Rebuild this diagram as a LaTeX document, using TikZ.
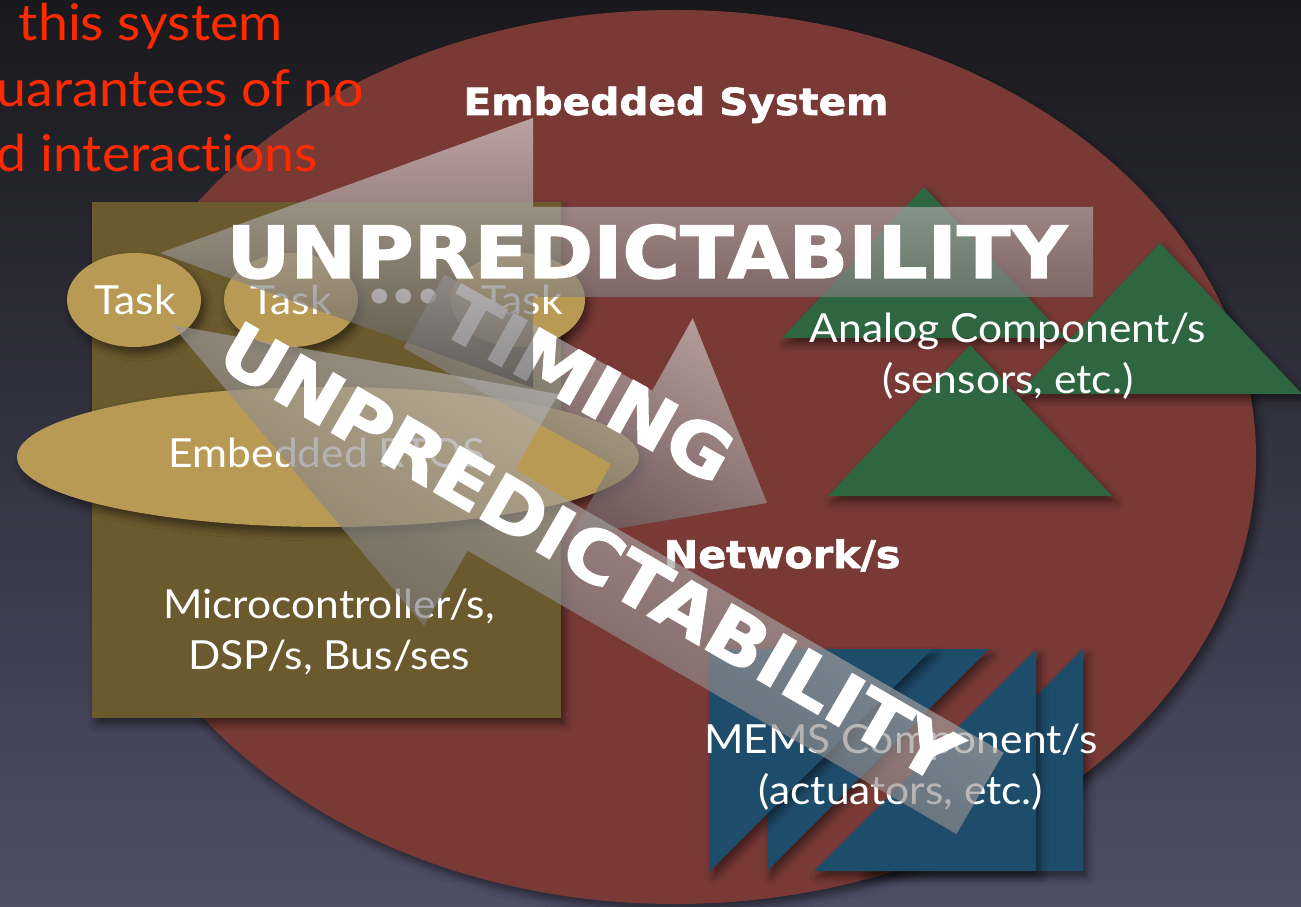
\documentclass[tikz,border=0pt]{standalone}
\usepackage{fontspec}
\setmainfont{Lato}
\newfontfamily\slide[FakeStretch=1.06,Ligatures=NoCommon]{Lato}
\newfontfamily\heavy[FakeStretch=1.09,BoldFeatures={FakeBold=1.8}]{DejaVu Sans}
\usetikzlibrary{shadows.blur}
\definecolor{bgtop}{HTML}{19191D}
\definecolor{bgmid}{HTML}{2E2E3A}
\definecolor{bgbot}{HTML}{4F4E66}
\definecolor{sysred}{HTML}{793A36}
\definecolor{mcu}{HTML}{6A5A2E}
\definecolor{rtos}{HTML}{B99A55}
\definecolor{analog}{HTML}{2E6641}
\definecolor{mems}{HTML}{1E4C6B}
\definecolor{warn}{HTML}{FF2A00}
\definecolor{arrowhi}{HTML}{DCD6D6}
\definecolor{arrowlo}{HTML}{535151}
\begin{document}
\begin{tikzpicture}[x=0.01cm,y=-0.01cm,
  shd/.style={blur shadow={shadow xshift=.04cm,shadow yshift=-.06cm,shadow blur radius=.08cm,shadow opacity=50}},
  lbl/.style={text=white,inner sep=0pt,align=center,font=\slide\fontsize{11.4}{14.4}\selectfont},
  bold/.style={text=white,inner sep=0pt,font=\heavy\bfseries\fontsize{10.6}{13}\selectfont},
  big/.style={text=white,inner sep=0pt,font=\heavy\bfseries\fontsize{20.5}{24}\selectfont},
  glass/.style={top color=arrowhi,bottom color=arrowlo,fill opacity=.67,draw=none}]
\path[use as bounding box] (0,0) rectangle (1301,907);
\clip (0,0) rectangle (1301,907);
\shade[top color=bgtop,middle color=bgmid,bottom color=bgbot] (0,0) rectangle (1301,907);

\fill[sysred,shd] (675,457) ellipse [x radius=581,y radius=447];
\node[anchor=north west,text=warn,align=left,inner sep=0pt,font=\slide\fontsize{14.4}{18.5}\selectfont]
  (warning) at (-4,3) {\hspace*{6.3pt}this system\\uarantees of no\\d interactions};
\node[bold,anchor=base] (system) at (676,115) {Embedded System};

% processor board
\fill[mcu,shd] (92,202) rectangle (561,718);
\fill[rtos,shd] (328,457) ellipse [x radius=311,y radius=70];
\foreach \x in {134,291,518}
  \fill[rtos,shd] (\x,300) ellipse [x radius=67,y radius=47];
\node[lbl,anchor=base] (task1) at (135,315) {Task};
\node[lbl,anchor=base] (task2) at (291,315) {Task};
\node[lbl,anchor=base] (dots) at (404,309) {•••};
\node[lbl,anchor=base] (task3) at (522,315) {Task};
\node[lbl,anchor=base] (os) at (327,467) {Embedded RTOS};
\node[lbl] (board) at (329,632) {Microcontroller/s,\\DSP/s, Bus/ses};

% sensors and actuators
\foreach \ax/\ay in {924/187,1160/243,970/345}
  \fill[analog,shd] (\ax,\ay) -- ++(142,151) -- ++(-284,0) -- cycle;
\node[lbl] (sensors) at (1008,356) {Analog Component/s\\(sensors, etc.)};
\foreach \x in {767,710}
  \fill[mems,shd] (\x,649) -- ++(222,0) -- ++(-222,222) -- cycle;
\foreach \x in {1083,1036}
  \fill[mems,shd] (\x,649) -- ++(0,222) -- ++(-222,0) -- cycle;
\node[lbl] (actuators) at (901,767) {MEMS Component/s\\(actuators, etc.)};
\node[bold,anchor=base,font=\heavy\bfseries\fontsize{10.8}{13}\selectfont] (net) at (782,568) {Network/s};

% the three big arrows
\begin{scope}[shift={(767,503)},rotate=150.8]
  \shade[glass,shading angle=-29.2] (0,0) -- (155,125) -- (155,42) -- (393,42)
    -- (393,-42) -- (155,-42) -- (155,-125) -- cycle;
\end{scope}
\node[big,rotate=-29.2] (timing) at (588,385) {TIMING};
\begin{scope}[shift={(172,325)},rotate=-30.1]
  \shade[glass,shading angle=-30.1] (0,0) -- (369,134) -- (369,47) -- (934,47)
    -- (934,-47) -- (369,-47) -- (369,-134) -- cycle;
\end{scope}
\node[big,rotate=-30.1] (unpred2) at (590,552) {UNPREDICTABILITY};
\shade[glass] (160,253) -- (533,118) -- (533,207) -- (1093,207)
  -- (1093,297) -- (533,297) -- (533,388) -- cycle;
\node[big,anchor=base] (unpred1) at (647,278) {UNPREDICTABILITY};
\end{tikzpicture}
\end{document}
